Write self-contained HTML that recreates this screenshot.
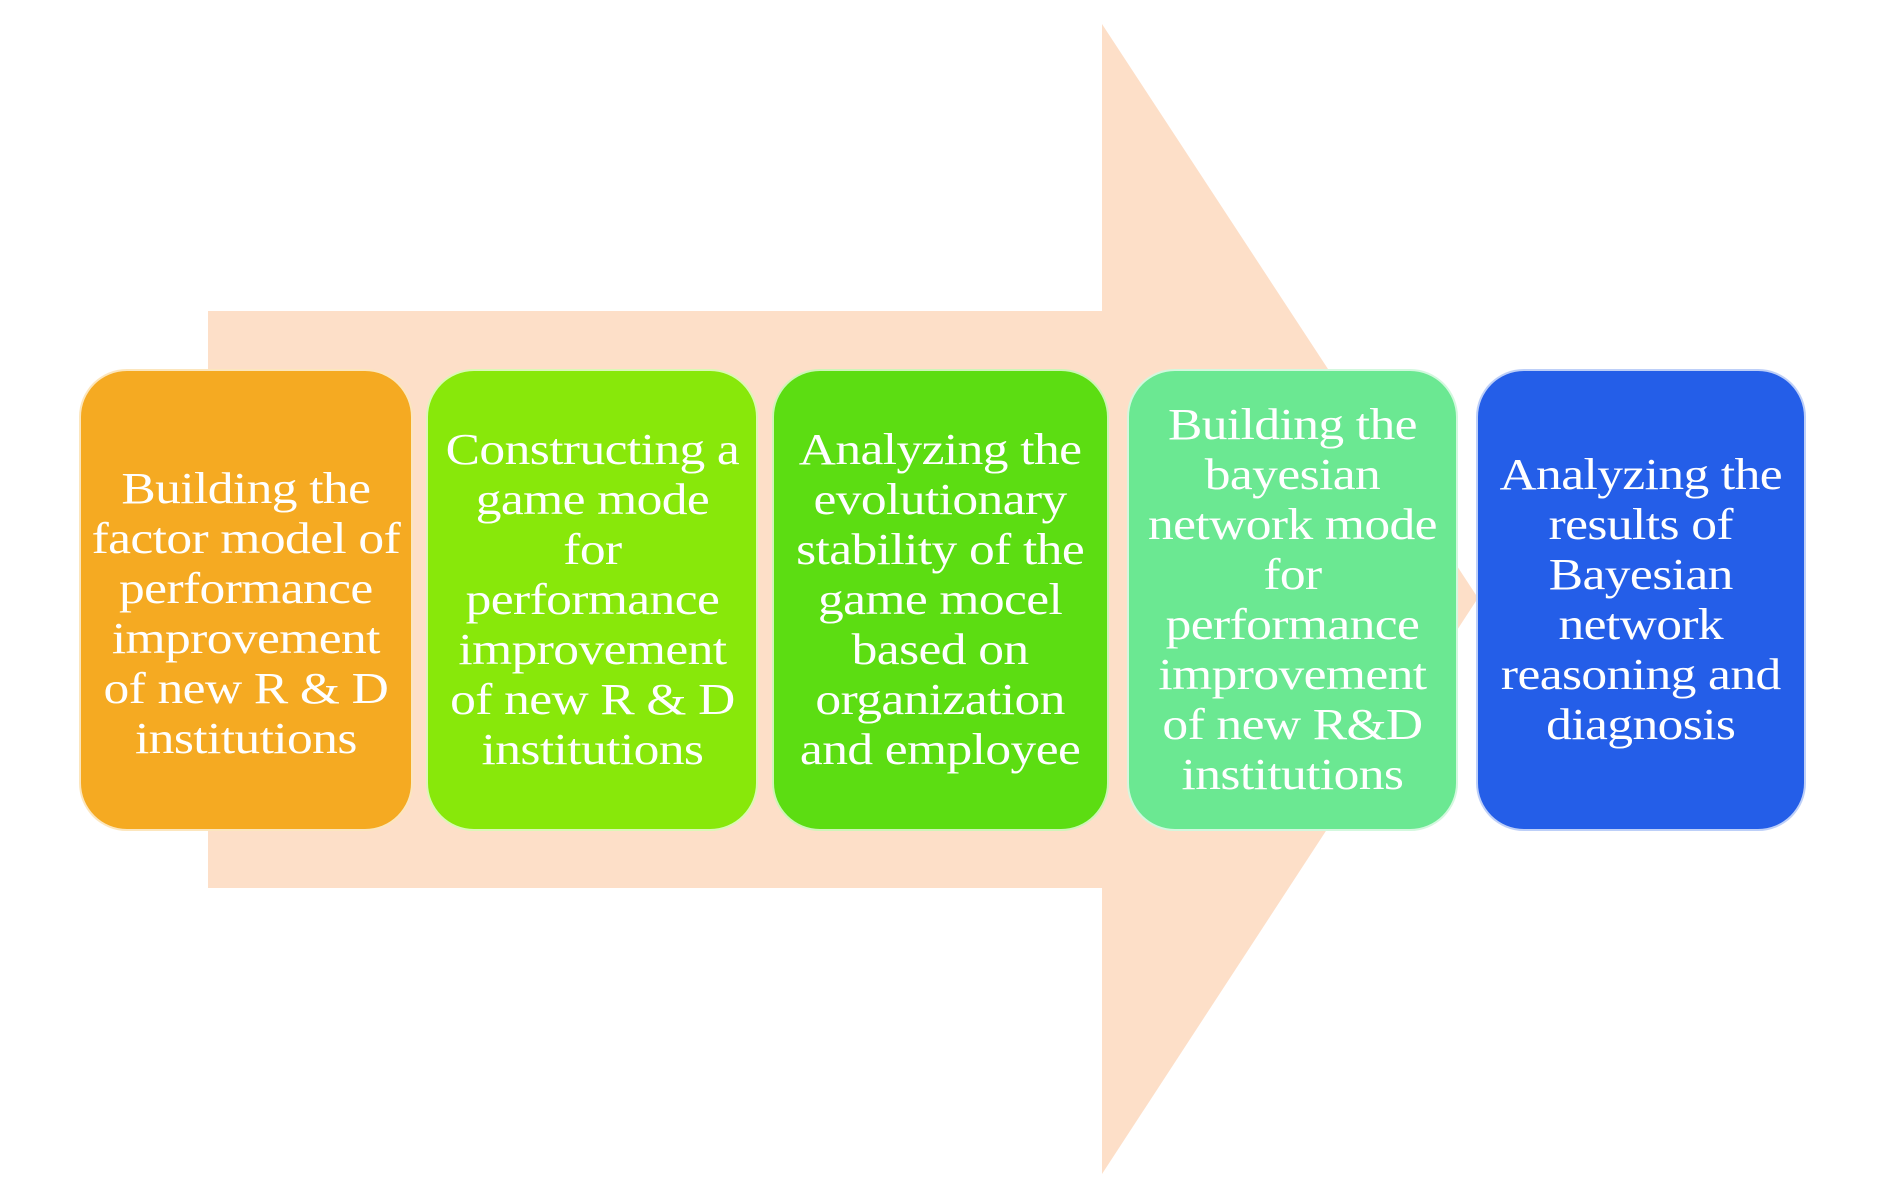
<!DOCTYPE html>
<html><head><meta charset="utf-8"><style>
html,body{margin:0;padding:0;background:#fff;}
body{width:1890px;height:1188px;position:relative;overflow:hidden;font-family:"Liberation Serif",serif;}
svg{position:absolute;left:0;top:0;}
.b{position:absolute;top:369px;height:462px;border-radius:48px;display:flex;align-items:center;justify-content:center;text-align:center;color:#fff;font-size:44px;line-height:50px;box-sizing:border-box;border:2px solid rgba(255,255,255,0.7);letter-spacing:-0.5px;}
.b span{display:inline-block;transform:scaleX(1.17);white-space:nowrap;}
</style></head><body>
<svg width="1890" height="1188"><polygon points="208,311 1102,311 1102,24 1478,598 1102,1174 1102,888 208,888" fill="#FDDFC8"/></svg>
<div class="b" style="left:79px;width:334px;background:#F5AA22;padding-top:28px;"><span>Building the<br>factor model of<br>performance<br>improvement<br>of new R &amp; D<br>institutions</span></div>
<div class="b" style="left:426px;width:332px;background:#88E80A;"><span>Constructing a<br>game mode<br>for<br>performance<br>improvement<br>of new R &amp; D<br>institutions</span></div>
<div class="b" style="left:772px;width:337px;background:#5CDD12;"><span>Analyzing the<br>evolutionary<br>stability of the<br>game mocel<br>based on<br>organization<br>and employee</span></div>
<div class="b" style="left:1127px;width:331px;background:#6BE892;"><span>Building the<br>bayesian<br>network mode<br>for<br>performance<br>improvement<br>of new R&amp;D<br>institutions</span></div>
<div class="b" style="left:1476px;width:330px;background:#245EE8;"><span>Analyzing the<br>results of<br>Bayesian<br>network<br>reasoning and<br>diagnosis</span></div>
</body></html>
